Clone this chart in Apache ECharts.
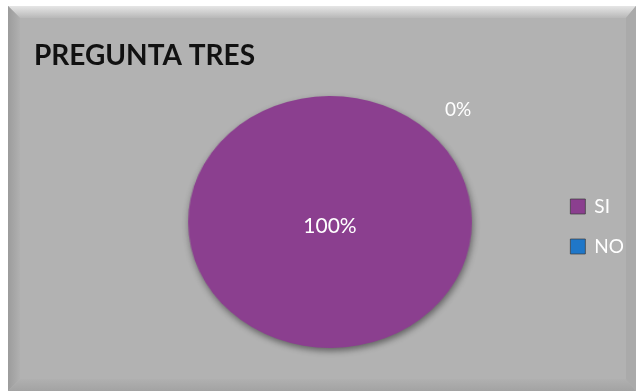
<!DOCTYPE html>
<html><head><meta charset="utf-8">
<script src="https://cdn.jsdelivr.net/npm/echarts@6/dist/echarts.min.js"></script>
<style>html,body{margin:0;padding:0;background:#fff}
#wrap{position:relative;width:636px;height:391px;overflow:hidden}
#bg,#pie,#c{position:absolute;left:0;top:0;width:636px;height:391px}
#pie{transform-origin:330px 222px;transform:scaleX(1.126)}
</style>
</head><body><div id="wrap"><div id="bg"></div><div id="pie"></div><div id="c"></div></div>
<script>
const titleText = 'PREGUNTA TRES';
const categories = ['SI', 'NO'];
const values = [100, 0];
const colors = ['#8b3f8f', '#1f77c9'];

// order: NO first so its zero-size slice sits at the start angle (upper right)
const order = [1, 0];
const CENTER = [330, 222], R = 126, START = 45.5;

// background panel
const bg = echarts.init(document.getElementById('bg'));
bg.setOption({
  backgroundColor: '#ffffff',
  graphic: [
    { type: 'rect', shape: { x: 8, y: 6, width: 628, height: 385 }, style: { fill: '#b2b2b2' }, z: -10 },
    { type: 'polygon', shape: { points: [[8,6],[636,6],[626,18],[20,18]] }, style: { fill: { type: 'linear', x: 0, y: 0, x2: 0, y2: 1, colorStops: [{offset:0,color:'#e6e6e6'},{offset:1,color:'#b8b8b8'}] } }, z: -9 },
    { type: 'polygon', shape: { points: [[8,6],[20,18],[20,379],[8,391]] }, style: { fill: { type: 'linear', x: 0, y: 0, x2: 1, y2: 0, colorStops: [{offset:0,color:'#9c9c9c'},{offset:1,color:'#b0b0b0'}] } }, z: -9 },
    { type: 'polygon', shape: { points: [[8,391],[20,379],[626,379],[636,391]] }, style: { fill: { type: 'linear', x: 0, y: 0, x2: 0, y2: 1, colorStops: [{offset:0,color:'#b0b0b0'},{offset:1,color:'#a3a3a3'}] } }, z: -9 },
    { type: 'polygon', shape: { points: [[636,6],[636,391],[626,379],[626,18]] }, style: { fill: '#aaaaaa' }, z: -9 }
  ]
});

// pie shapes (stretched horizontally into the ellipse of the original)
const pie = echarts.init(document.getElementById('pie'));
pie.setOption({
  series: [{
    type: 'pie', center: CENTER, radius: R, startAngle: START, silent: true,
    label: { show: false }, labelLine: { show: false },
    data: order.map(i => ({ name: categories[i], value: values[i], itemStyle: { color: colors[i] } })),
    itemStyle: { shadowBlur: 6, shadowOffsetX: 1, shadowOffsetY: 3, shadowColor: 'rgba(0,0,0,0.45)', borderWidth: 0 },
    emphasis: { disabled: true }
  }]
});

// text layer: title, legend, percentage labels
const chart = echarts.init(document.getElementById('c'));
chart.setOption({
  title: { text: titleText, left: 29, top: 37, textStyle: { fontFamily: 'Lato', fontSize: 28, fontWeight: 'bold', color: '#111' } },
  legend: {
    orient: 'vertical', left: 565, top: 192,
    data: categories.map((c, i) => ({ name: c, itemStyle: { color: colors[i], borderColor: '#3a3a3a', borderWidth: 0.7 } })),
    itemWidth: 15, itemHeight: 15, itemGap: 21, icon: 'rect',
    textStyle: { color: '#fff', fontSize: 19, fontFamily: 'Lato', padding: [0,0,0,4] }
  },
  series: [{
    type: 'pie', center: CENTER, radius: R, startAngle: START, silent: true,
    avoidLabelOverlap: false, legendHoverLink: false,
    data: order.map(i => ({
      name: categories[i], value: values[i], itemStyle: { color: 'rgba(0,0,0,0)' },
      label: values[i] === 0
        ? { position: 'outside', formatter: '{d}%', color: '#fff', fontSize: 19, fontFamily: 'Lato' }
        : { position: 'center', formatter: '{d}%', color: '#fff', fontSize: 21, fontFamily: 'Lato', offset: [0, 4] },
      labelLine: { show: false, length: 31, length2: 0 }
    })),
    emphasis: { disabled: true }
  }]
});
</script></body></html>
